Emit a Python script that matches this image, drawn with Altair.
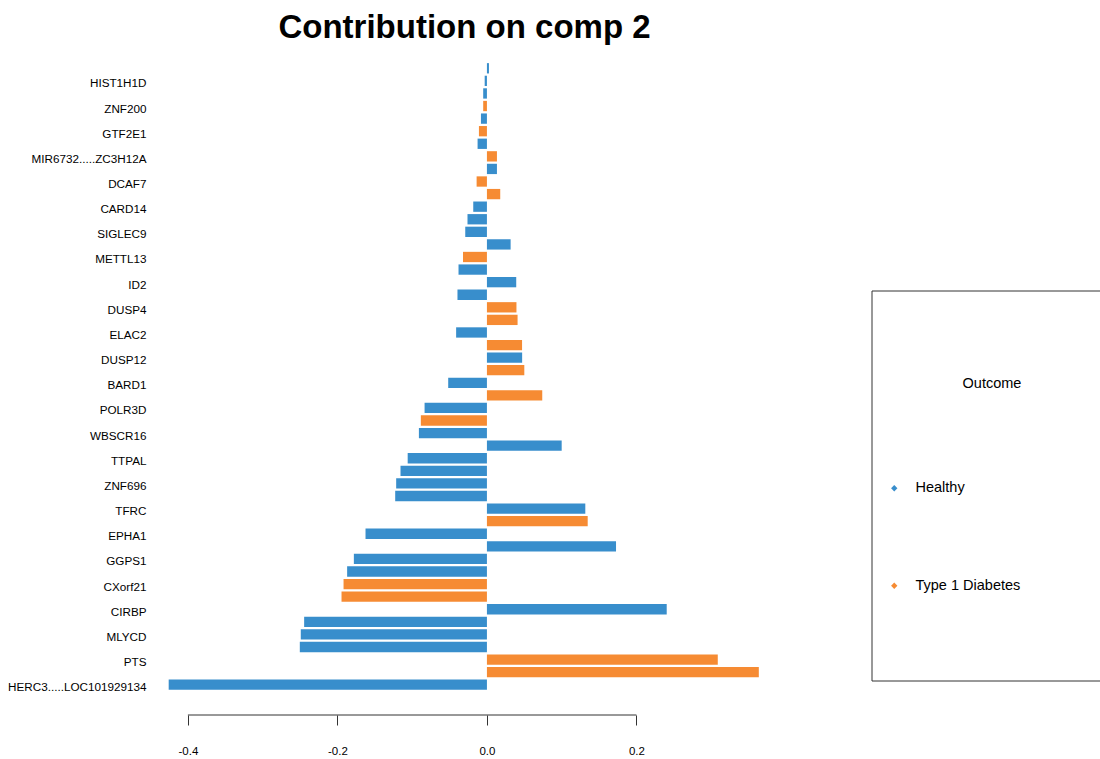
import json
import altair as alt
import pandas as pd

# Loadings on component 2, ordered from top (smallest |loading|) to bottom (largest)
loadings = [
    0.0027, -0.003, -0.005, -0.005, -0.008, -0.0107, -0.0125, 0.0134, 0.0134, -0.0138,
    0.0178, -0.0183, -0.026, -0.029, 0.0317, -0.032, -0.038, 0.0392, -0.0394, 0.0395,
    0.041, -0.0412, 0.047, 0.0471, 0.050, -0.0518, 0.074, -0.0834, -0.0884, -0.091,
    0.100, -0.106, -0.1156, -0.1214, -0.1227, 0.1316, 0.1348, -0.1624, 0.1727, -0.178,
    -0.187, -0.1918, -0.1945, 0.2405, -0.2445, -0.249, -0.2503, 0.3088, 0.3637, -0.4257,
]
# H = Healthy, T = Type 1 Diabetes
group_codes = [
    "H", "H", "H", "T", "H", "T", "H", "T", "H", "T",
    "T", "H", "H", "H", "H", "T", "H", "H", "H", "T",
    "T", "H", "T", "H", "T", "H", "T", "H", "T", "H",
    "H", "H", "H", "H", "H", "H", "T", "H", "H", "H",
    "H", "T", "T", "H", "H", "H", "H", "T", "T", "H",
]
# Labels shown on the axis (every second bar, from the top)
shown_labels = [
    "HIST1H1D", "ZNF200", "GTF2E1", "MIR6732.....ZC3H12A", "DCAF7", "CARD14",
    "SIGLEC9", "METTL13", "ID2", "DUSP4", "ELAC2", "DUSP12", "BARD1", "POLR3D",
    "WBSCR16", "TTPAL", "ZNF696", "TFRC", "EPHA1", "GGPS1", "CXorf21", "CIRBP",
    "MLYCD", "PTS", "HERC3.....LOC101929134",
]
group_names = {"H": "Healthy", "T": "Type 1 Diabetes"}
group_colors = ["#388ECC", "#F68B33"]
x_ticks = [-0.4, -0.2, 0.0, 0.2]

n = len(loadings)
axis_labels = []
k = 0
for i in range(n):
    if i % 2 == 1:
        axis_labels.append(shown_labels[k])
        k += 1
    else:
        axis_labels.append("")

df = pd.DataFrame({
    "rank": list(range(1, n + 1)),
    "loading": loadings,
    "group": [group_names[c] for c in group_codes],
})

W, H = 613, 629
LEFT, TOP = 158, 62
FONT = "Liberation Sans"

label_expr = json.dumps(axis_labels) + "[datum.value - 1]"

bars = alt.Chart(df).mark_bar().encode(
    y=alt.Y("rank:O", sort="ascending", title=None,
            scale=alt.Scale(paddingInner=0.18, paddingOuter=0.09),
            axis=alt.Axis(labelExpr=label_expr, domain=False, ticks=False,
                          labelPadding=12, labelFontSize=11.7, labelColor="#000000",
                          labelFont=FONT, grid=False, labelOffset=2.5)),
    x=alt.X("loading:Q", title=None,
            scale=alt.Scale(domain=[-0.44, 0.38], nice=False, zero=False),
            axis=alt.Axis(values=x_ticks,
                          labelExpr="(datum.value < 0 ? '-' : '') + format(abs(datum.value), '.1f')",
                          offset=24, domain=False,
                          tickSize=10, tickColor="#333333", tickWidth=1,
                          labelPadding=20, labelFontSize=11.5, labelColor="#000000",
                          labelFont=FONT, grid=False, labelFlush=False)),
    color=alt.Color("group:N",
                    scale=alt.Scale(domain=list(group_names.values()), range=group_colors),
                    legend=alt.Legend(title=None, orient="none", legendX=729, legendY=419,
                                      symbolType="diamond", symbolSize=40,
                                      symbolStrokeWidth=0, labelFontSize=14.5,
                                      labelFont=FONT, labelColor="#000000",
                                      labelOffset=14, rowPadding=82.5, padding=0)),
)

axis_line = alt.Chart(pd.DataFrame({"a": [x_ticks[0]], "b": [x_ticks[-1]]})).mark_rule(
    color="#333333", strokeWidth=1
).encode(x="a:Q", x2="b:Q", y=alt.value(H + 24))

legend_box = alt.Chart(pd.DataFrame({"k": [0]})).mark_rect(
    fill="white", fillOpacity=0, stroke="#333333", strokeWidth=1
).encode(
    x=alt.value(872 - LEFT), x2=alt.value(1115 - LEFT),
    y=alt.value(291 - TOP), y2=alt.value(681 - TOP),
)

legend_title = alt.Chart(pd.DataFrame({"t": ["Outcome"]})).mark_text(
    font=FONT, fontSize=14.5, color="#000000", align="center", baseline="middle"
).encode(text="t:N", x=alt.value(992 - LEFT), y=alt.value(384 - TOP))

chart = alt.layer(legend_box, bars, axis_line, legend_title).properties(
    width=W, height=H,
    title=alt.TitleParams("Contribution on comp 2", fontSize=33, font=FONT,
                          fontWeight="bold", color="#000000", anchor="middle",
                          frame="group", offset=17),
    autosize=alt.AutoSizeParams(type="none"),
    padding={"left": LEFT, "top": TOP, "right": 1100 - LEFT - W, "bottom": 759 - TOP - H},
).configure(font=FONT, background="white").configure_view(strokeWidth=0)

chart.save("out.html", embed_options={"renderer": "svg", "actions": False})
